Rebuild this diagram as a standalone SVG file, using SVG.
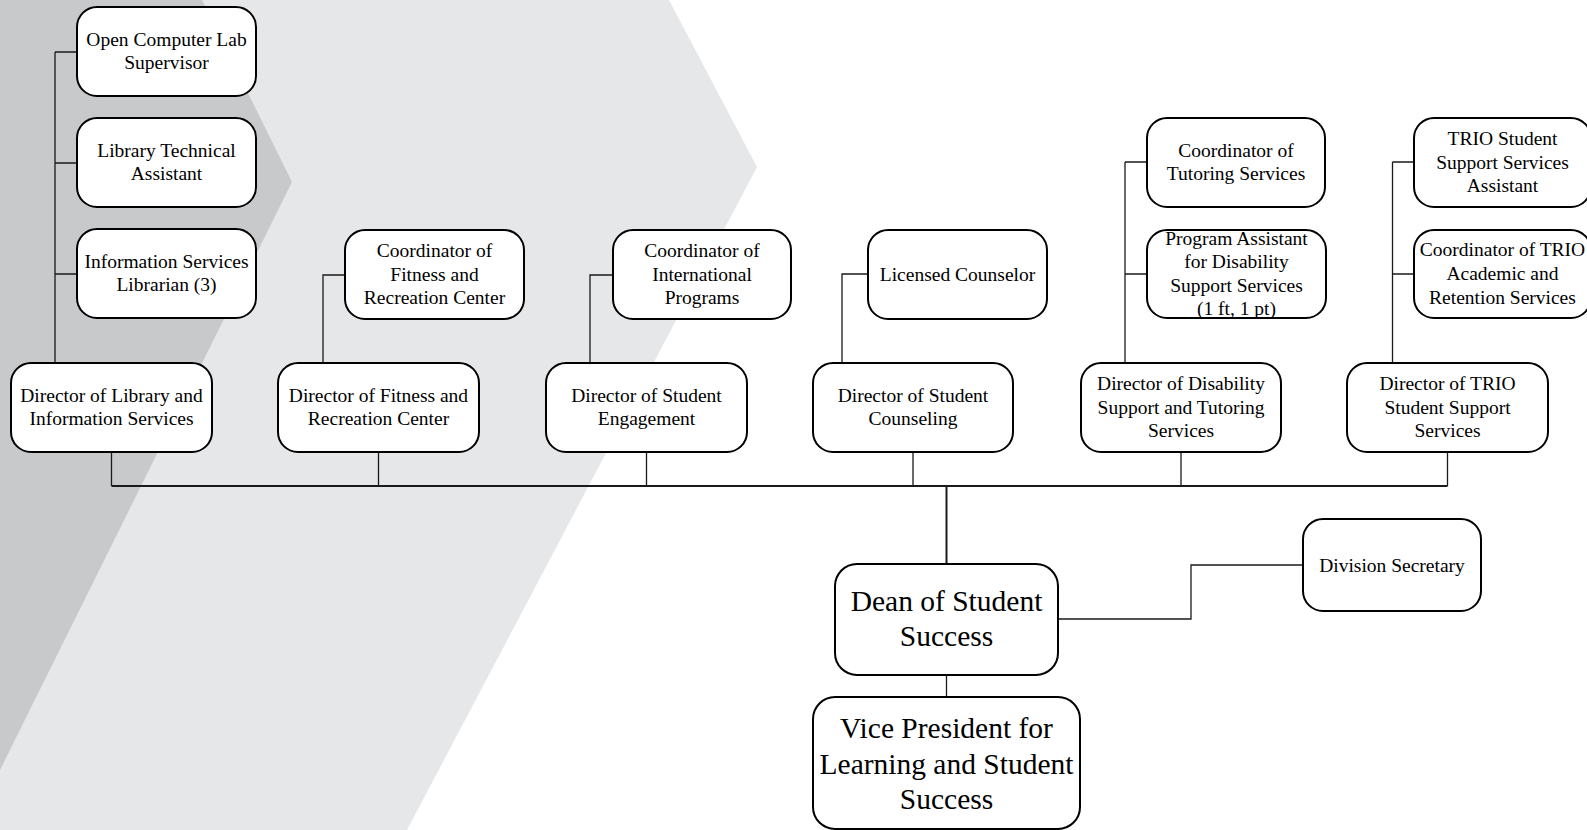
<svg xmlns="http://www.w3.org/2000/svg" width="1587" height="830" viewBox="0 0 1587 830">
<style>
.box{fill:#fff;stroke:#000;stroke-width:2}
.t{font-family:"Liberation Serif","Times New Roman",serif;font-size:19.5px;fill:#000;text-anchor:middle}
.tb{font-family:"Liberation Serif","Times New Roman",serif;font-size:29.5px;fill:#000;text-anchor:middle}
.c{fill:none;stroke:#1a1a1a;stroke-width:1.3}
.cb{fill:none;stroke:#1a1a1a;stroke-width:2}
</style>
<rect x="0" y="0" width="1587" height="830" fill="#fff"/>
<g id="background">
<polygon points="0,0 669,0 757,167 407,830 0,830" fill="#e6e7e8"/>
<polygon points="0,0 202,0 292,182 0,770" fill="#c8c9cb"/>
</g>
<g id="connectors">
<path class="c" d="M55,52 V363 M55,52 H77 M55,163 H77 M55,274 H77"/>
<path class="c" d="M323,363 V275 H345"/>
<path class="c" d="M590,363 V275 H613"/>
<path class="c" d="M842,363 V274 H868"/>
<path class="c" d="M1125,162 V363 M1125,162 H1147 M1125,274 H1147"/>
<path class="c" d="M1392.5,162 V363 M1392.5,162 H1414 M1392.5,274 H1414"/>
<path class="c" d="M111.5,452 V486 M378.5,452 V486 M646.5,452 V486 M913,452 V486 M1181,452 V486 M1447.5,452 V486"/>
<path class="cb" d="M111.5,486 H1447.5"/>
<path class="cb" d="M946.5,486 V564"/>
<path class="c" d="M946.5,675 V697"/>
<path class="c" d="M1058,619 H1191 V565 H1303"/>
</g>
<g id="n-open-lab"><rect class="box" x="77" y="7" width="179" height="89" rx="20"/><text class="t" x="166.5" y="45.7">Open Computer Lab</text><text class="t" x="166.5" y="69.3">Supervisor</text></g>
<g id="n-lib-tech"><rect class="box" x="77" y="118" width="179" height="89" rx="20"/><text class="t" x="166.5" y="156.7">Library Technical</text><text class="t" x="166.5" y="180.3">Assistant</text></g>
<g id="n-info-lib"><rect class="box" x="77" y="229" width="179" height="89" rx="20"/><text class="t" x="166.5" y="267.7">Information Services</text><text class="t" x="166.5" y="291.3">Librarian (3)</text></g>
<g id="n-dir-lib"><rect class="box" x="11" y="363" width="201" height="89" rx="20"/><text class="t" x="111.5" y="401.7">Director of Library and</text><text class="t" x="111.5" y="425.3">Information Services</text></g>
<g id="n-coord-fit"><rect class="box" x="345" y="230" width="179" height="89" rx="20"/><text class="t" x="434.5" y="256.9">Coordinator of</text><text class="t" x="434.5" y="280.5">Fitness and</text><text class="t" x="434.5" y="304.1">Recreation Center</text></g>
<g id="n-dir-fit"><rect class="box" x="278" y="363" width="201" height="89" rx="20"/><text class="t" x="378.5" y="401.7">Director of Fitness and</text><text class="t" x="378.5" y="425.3">Recreation Center</text></g>
<g id="n-coord-intl"><rect class="box" x="613" y="230" width="178" height="89" rx="20"/><text class="t" x="702" y="256.9">Coordinator of</text><text class="t" x="702" y="280.5">International</text><text class="t" x="702" y="304.1">Programs</text></g>
<g id="n-dir-eng"><rect class="box" x="546" y="363" width="201" height="89" rx="20"/><text class="t" x="646.5" y="401.7">Director of Student</text><text class="t" x="646.5" y="425.3">Engagement</text></g>
<g id="n-counselor"><rect class="box" x="868" y="230" width="179" height="89" rx="20"/><text class="t" x="957.5" y="280.5">Licensed Counselor</text></g>
<g id="n-dir-couns"><rect class="box" x="813" y="363" width="200" height="89" rx="20"/><text class="t" x="913" y="401.7">Director of Student</text><text class="t" x="913" y="425.3">Counseling</text></g>
<g id="n-coord-tut"><rect class="box" x="1147" y="118" width="178" height="89" rx="20"/><text class="t" x="1236" y="156.7">Coordinator of</text><text class="t" x="1236" y="180.3">Tutoring Services</text></g>
<g id="n-prog-asst"><rect class="box" x="1147" y="230" width="179" height="88" rx="20"/><text class="t" x="1236.5" y="244.6">Program Assistant</text><text class="t" x="1236.5" y="268.2">for Disability</text><text class="t" x="1236.5" y="291.8">Support Services</text><text class="t" x="1236.5" y="315.4">(1 ft, 1 pt)</text></g>
<g id="n-dir-dis"><rect class="box" x="1081" y="363" width="200" height="89" rx="20"/><text class="t" x="1181" y="389.9">Director of Disability</text><text class="t" x="1181" y="413.5">Support and Tutoring</text><text class="t" x="1181" y="437.1">Services</text></g>
<g id="n-trio-asst"><rect class="box" x="1414" y="118" width="177" height="89" rx="20"/><text class="t" x="1502.5" y="144.9">TRIO Student</text><text class="t" x="1502.5" y="168.5">Support Services</text><text class="t" x="1502.5" y="192.1">Assistant</text></g>
<g id="n-coord-trio"><rect class="box" x="1414" y="230" width="177" height="88" rx="20"/><text class="t" x="1502.5" y="256.4">Coordinator of TRIO</text><text class="t" x="1502.5" y="280">Academic and</text><text class="t" x="1502.5" y="303.6">Retention Services</text></g>
<g id="n-dir-trio"><rect class="box" x="1347" y="363" width="201" height="89" rx="20"/><text class="t" x="1447.5" y="389.9">Director of TRIO</text><text class="t" x="1447.5" y="413.5">Student Support</text><text class="t" x="1447.5" y="437.1">Services</text></g>
<g id="n-dean"><rect class="box" x="835" y="564" width="223" height="111" rx="22"/><text class="tb" x="946.5" y="610.7">Dean of Student</text><text class="tb" x="946.5" y="646.3">Success</text></g>
<g id="n-vp"><rect class="box" x="813" y="697" width="267" height="132" rx="22"/><text class="tb" x="946.5" y="738.4">Vice President for</text><text class="tb" x="946.5" y="773.7">Learning and Student</text><text class="tb" x="946.5" y="809.3">Success</text></g>
<g id="n-secretary"><rect class="box" x="1303" y="519" width="178" height="92" rx="20"/><text class="t" x="1392" y="571.5">Division Secretary</text></g>
</svg>
